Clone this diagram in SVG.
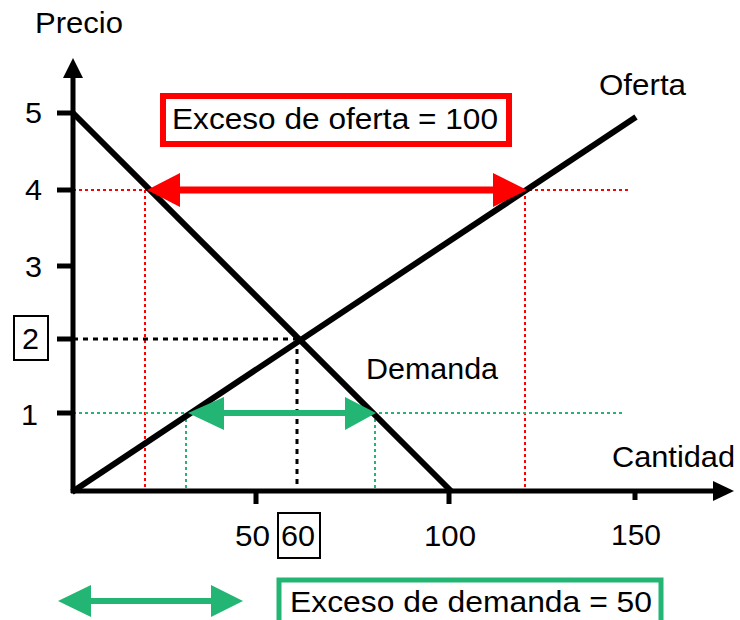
<svg xmlns="http://www.w3.org/2000/svg" width="740" height="620" viewBox="0 0 740 620">
<style>
text{font-family:"Liberation Sans",Arial,sans-serif;font-size:29px;fill:#000}
.ax{stroke:#000;stroke-width:5;fill:none}
.cur{stroke:#000;stroke-width:6;fill:none;stroke-linecap:butt}
.dr{stroke:#ff0000;stroke-width:2;stroke-dasharray:3 3;fill:none}
.dg{stroke:#22b573;stroke-width:2;stroke-dasharray:3 3;fill:none}
.dk{stroke:#000;stroke-width:3;stroke-dasharray:5 5;fill:none}
</style>
<rect width="740" height="620" fill="#fff"/>
<g id="connectors">
<line class="dr" x1="73" y1="190" x2="630" y2="190"/>
<line class="dr" x1="145" y1="190" x2="145" y2="491"/>
<line class="dr" x1="525" y1="190" x2="525" y2="491"/>
<line class="dg" x1="73" y1="413" x2="625" y2="413"/>
<line class="dg" x1="186" y1="413" x2="186" y2="491"/>
<line class="dg" x1="375" y1="413" x2="375" y2="491"/>
<line class="dk" x1="73" y1="339" x2="297" y2="339"/>
<line class="dk" x1="297" y1="339" x2="297" y2="491"/>
<g id="axes">
<line class="ax" x1="73" y1="493" x2="73" y2="76"/>
<polygon points="73,58 63,78 83,78" fill="#000"/>
<line class="ax" x1="71" y1="491" x2="715" y2="491"/>
<polygon points="734,491 713,481 713,501" fill="#000"/>
<line class="ax" x1="57" y1="113" x2="73" y2="113"/>
<line class="ax" x1="57" y1="190" x2="73" y2="190"/>
<line class="ax" x1="57" y1="266" x2="73" y2="266"/>
<line class="ax" x1="57" y1="339" x2="73" y2="339"/>
<line class="ax" x1="57" y1="413" x2="73" y2="413"/>
<line class="ax" x1="256" y1="491" x2="256" y2="504"/>
<line class="ax" x1="449" y1="491" x2="449" y2="504"/>
<line class="ax" x1="635" y1="491" x2="635" y2="500"/>
</g>
<g id="demanda-curve"><line class="cur" x1="73" y1="113" x2="451" y2="491"/></g>
<g id="oferta-curve"><line class="cur" x1="72" y1="492" x2="636" y2="117"/></g>
<g id="red-arrow">
<line x1="175" y1="190" x2="498" y2="190" stroke="#ff0000" stroke-width="7"/>
<polygon points="147,190 180,173 180,207" fill="#ff0000"/>
<polygon points="527,190 493,173 493,207" fill="#ff0000"/>
</g>
<g id="green-arrow">
<line x1="218" y1="413" x2="350" y2="413" stroke="#22b573" stroke-width="6"/>
<polygon points="188,413 224,397 224,430" fill="#22b573"/>
<polygon points="376,413 345,397 345,430" fill="#22b573"/>
</g>
<g id="legend-arrow">
<line x1="85" y1="601" x2="215" y2="601" stroke="#22b573" stroke-width="6"/>
<polygon points="58,601 91,585 91,617" fill="#22b573"/>
<polygon points="243,601 211,585 211,617" fill="#22b573"/>
</g>
</g>
<g id="label-precio"><text x="35" y="33" textLength="88" lengthAdjust="spacingAndGlyphs">Precio</text></g>
<g id="label-cantidad"><text x="612" y="467" textLength="123" lengthAdjust="spacingAndGlyphs">Cantidad</text></g>
<g id="label-oferta"><text x="599" y="95" textLength="87" lengthAdjust="spacingAndGlyphs">Oferta</text></g>
<g id="label-demanda"><text x="366" y="379" textLength="132" lengthAdjust="spacingAndGlyphs">Demanda</text></g>
<g id="yticks">
<text x="25" y="123" textLength="17" lengthAdjust="spacingAndGlyphs">5</text>
<text x="25" y="200" textLength="17" lengthAdjust="spacingAndGlyphs">4</text>
<text x="25" y="277" textLength="17" lengthAdjust="spacingAndGlyphs">3</text>
<text x="21" y="425" textLength="17" lengthAdjust="spacingAndGlyphs">1</text>
<rect x="14" y="316" width="34" height="44" fill="none" stroke="#000" stroke-width="2"/>
<text x="22" y="349" textLength="17" lengthAdjust="spacingAndGlyphs">2</text>
</g>
<g id="xticks">
<text x="235" y="546" textLength="35" lengthAdjust="spacingAndGlyphs">50</text>
<rect x="278" y="513" width="42" height="45" fill="none" stroke="#000" stroke-width="2"/>
<text x="281" y="546" textLength="34" lengthAdjust="spacingAndGlyphs">60</text>
<text x="424" y="546" textLength="52" lengthAdjust="spacingAndGlyphs">100</text>
<text x="611" y="545" textLength="50" lengthAdjust="spacingAndGlyphs">150</text>
</g>
<g id="box-oferta">
<rect x="163" y="96" width="346" height="48" fill="#fff" stroke="#ff0000" stroke-width="6"/>
<text x="172" y="129" textLength="326" lengthAdjust="spacingAndGlyphs">Exceso de oferta = 100</text>
</g>
<g id="box-demanda">
<rect x="279" y="580" width="382" height="46" fill="#fff" stroke="#22b573" stroke-width="5"/>
<text x="290" y="612" textLength="362" lengthAdjust="spacingAndGlyphs">Exceso de demanda = 50</text>
</g>
</svg>
